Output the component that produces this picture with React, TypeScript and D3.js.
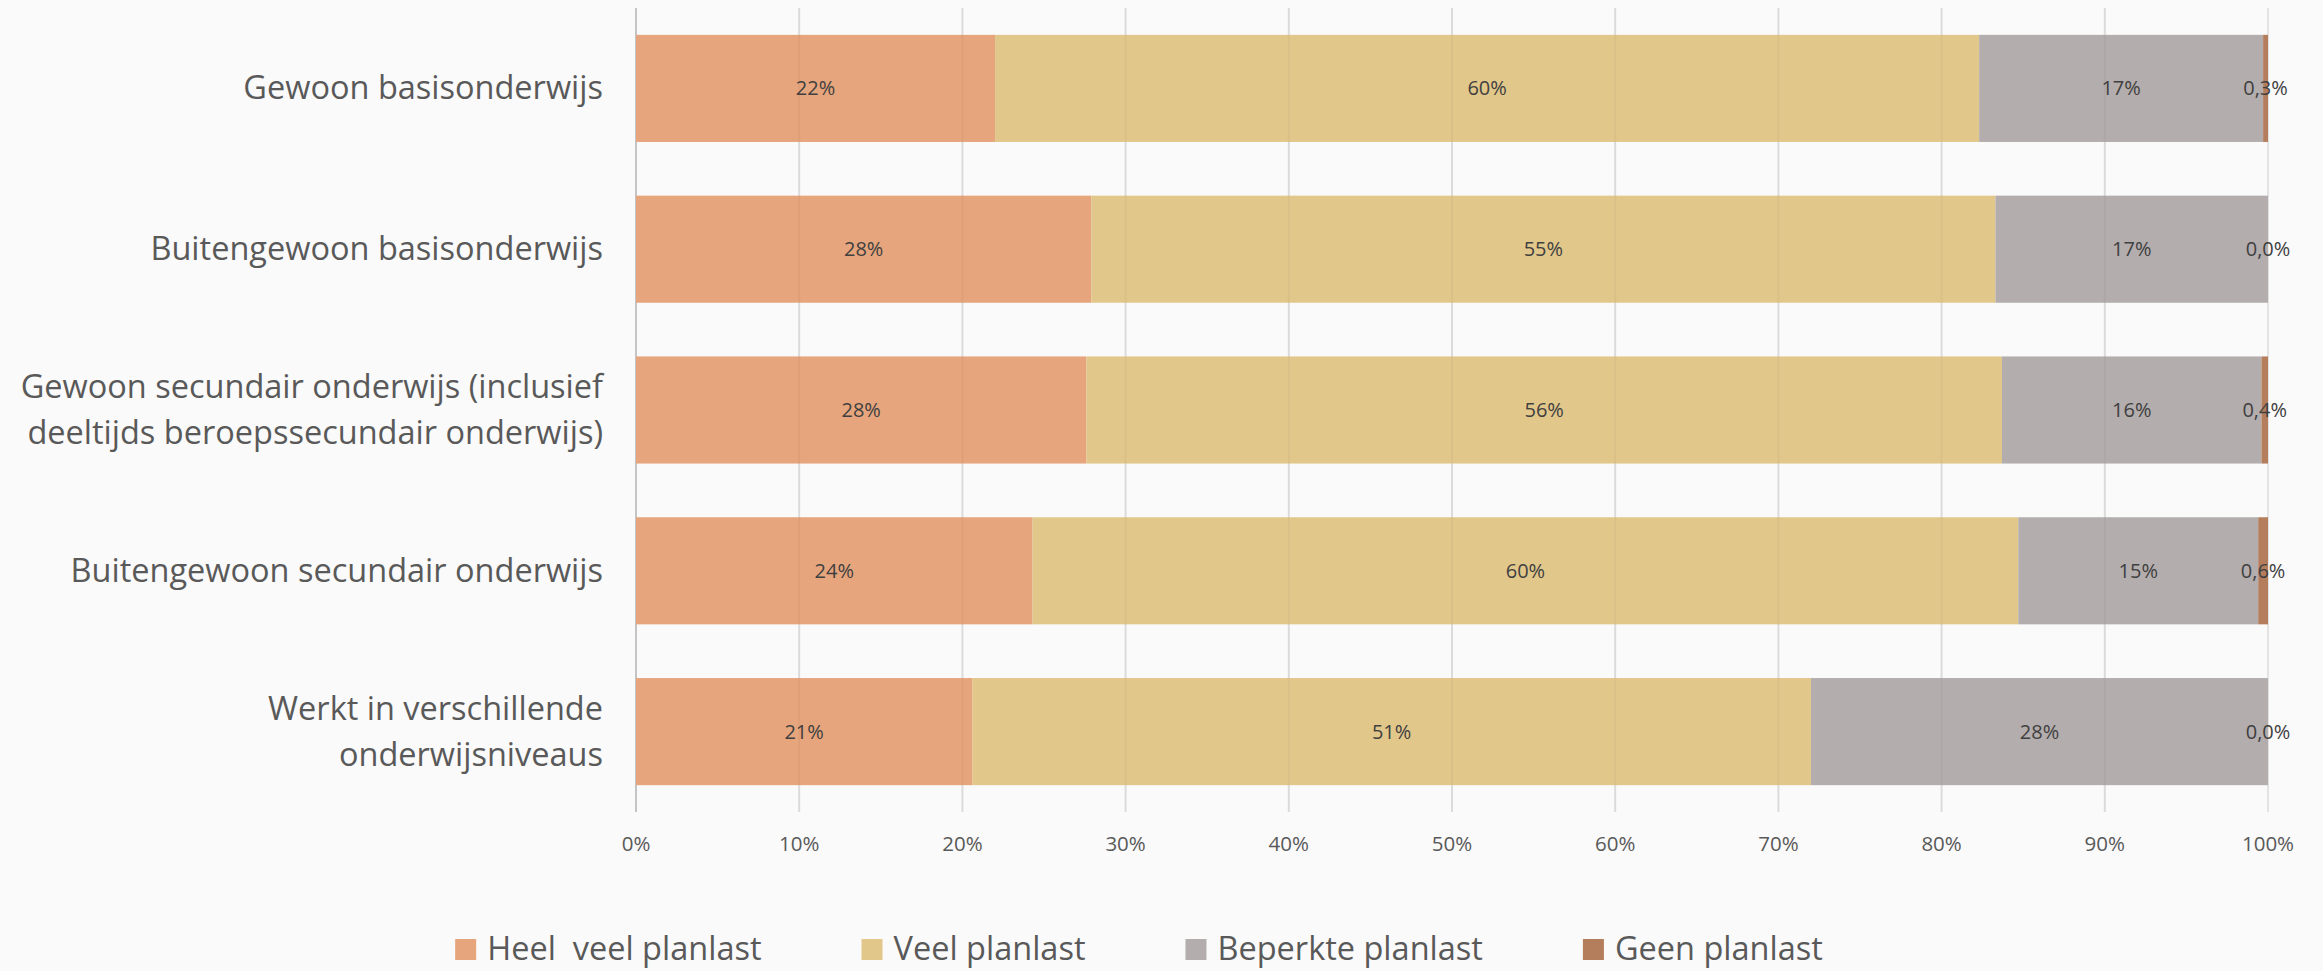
import React, { useEffect, useRef } from "react";
import * as d3 from "d3";

const categories = [
  ["Gewoon basisonderwijs"],
  ["Buitengewoon basisonderwijs"],
  ["Gewoon secundair onderwijs (inclusief", "deeltijds beroepssecundair onderwijs)"],
  ["Buitengewoon secundair onderwijs"],
  ["Werkt in verschillende", "onderwijsniveaus"],
];
const seriesNames = ["Heel  veel planlast", "Veel planlast", "Beperkte planlast", "Geen planlast"];
const heelVeel = [22.0, 27.9, 27.6, 24.3, 20.6];
const veel = [60.3, 55.4, 56.1, 60.4, 51.4];
const beperkt = [17.4, 16.7, 15.9, 14.7, 28.0];
const geen = [0.3, 0.0, 0.4, 0.6, 0.0];
const tickValues = [0, 10, 20, 30, 40, 50, 60, 70, 80, 90, 100];
const colors = ["#E6A57C", "#E2C78B", "#B3ADAD", "#B47D5C"];

const W = 2323;
const H = 971;
const FONT = "'Open Sans', sans-serif";

export default function App() {
  const ref = useRef<SVGSVGElement | null>(null);
  useEffect(() => {
    document.body.style.margin = "0";
    const svg = d3.select(ref.current);
    svg.selectAll("*").remove();
    svg.append("rect").attr("width", W).attr("height", H).attr("fill", "#FAFAFA");

    const keys = categories.map((_, i) => String(i));
    const x = d3.scaleLinear().domain([0, 100]).range([636, 2268]);
    const y = d3.scaleBand<string>().domain(keys).range([8, 812]).paddingInner(0.334).paddingOuter(0.167);

    const series = [heelVeel, veel, beperkt, geen];
    const rows = keys.map((k, i) => {
      const o: any = { key: k };
      series.forEach((s, j) => (o["s" + j] = s[i]));
      return o;
    });
    const stacked = d3.stack<any>().keys(["s0", "s1", "s2", "s3"])(rows);

    // gridlines
    svg
      .append("g")
      .selectAll("line")
      .data(tickValues)
      .join("line")
      .attr("x1", (d) => x(d))
      .attr("x2", (d) => x(d))
      .attr("y1", 8)
      .attr("y2", 812)
      .attr("stroke", (d) => (d === 0 ? "#C4C4C4" : "#E3E3E3"))
      .attr("stroke-width", 2);

    // bars
    stacked.forEach((layer, j) => {
      svg
        .append("g")
        .selectAll("rect")
        .data(layer)
        .join("rect")
        .attr("x", (d) => x(d[0]))
        .attr("y", (d) => y(d.data.key)!)
        .attr("width", (d) => Math.max(0, x(d[1]) - x(d[0])))
        .attr("height", y.bandwidth())
        .attr("fill", colors[j]);
    });

    // faint gridlines over bars
    svg
      .append("g")
      .selectAll("line")
      .data(tickValues.filter((d) => d > 0 && d < 100))
      .join("line")
      .attr("x1", (d) => x(d))
      .attr("x2", (d) => x(d))
      .attr("y1", 8)
      .attr("y2", 812)
      .attr("stroke", "rgba(0,0,0,0.03)")
      .attr("stroke-width", 2);

    // value labels
    stacked.forEach((layer, j) => {
      svg
        .append("g")
        .selectAll("text")
        .data(layer)
        .join("text")
        .attr("x", (d) => x((d[0] + d[1]) / 2))
        .attr("y", (d) => y(d.data.key)! + y.bandwidth() / 2)
        .attr("dy", "0.35em")
        .attr("text-anchor", "middle")
        .attr("font-family", FONT)
        .attr("font-size", 20)
        .attr("fill", "#404040")
        .text((d) => {
          const v = d[1] - d[0];
          return j === 3 ? v.toFixed(1).replace(".", ",") + "%" : Math.round(v) + "%";
        });
    });

    // x tick labels
    svg
      .append("g")
      .selectAll("text")
      .data(tickValues)
      .join("text")
      .attr("x", (d) => x(d))
      .attr("y", 844)
      .attr("dy", "0.35em")
      .attr("text-anchor", "middle")
      .attr("font-family", FONT)
      .attr("font-size", 20.5)
      .attr("fill", "#595959")
      .text((d) => d + "%");

    // y labels
    const yl = svg.append("g");
    categories.forEach((lines, i) => {
      const cy = y(keys[i])! + y.bandwidth() / 2;
      const lh = 46;
      const start = cy + 11 - ((lines.length - 1) * lh) / 2;
      const t = yl
        .append("text")
        .attr("text-anchor", "end")
        .attr("font-family", FONT)
        .attr("font-size", 32.5)
        .attr("fill", "#595959");
      lines.forEach((ln, k) => {
        t.append("tspan").attr("x", 603).attr("y", start + k * lh).text(ln);
      });
    });

    // legend
    const lg = svg.append("g");
    const items = seriesNames.map((name, j) => {
      const g = lg.append("g");
      g.append("rect").attr("x", 0).attr("y", 939).attr("width", 21).attr("height", 21).attr("fill", colors[j]);
      const t = g
        .append("text")
        .attr("x", 32)
        .attr("y", 960)
        .attr("font-family", FONT)
        .attr("font-size", 32.5)
        .attr("fill", "#595959")
        .style("white-space", "pre")
        .text(name);
      const w = (t.node() as SVGTextElement).getComputedTextLength();
      return { g, w: 32 + w };
    });
    const gap = 100;
    const total = d3.sum(items, (d) => d.w) + gap * (items.length - 1);
    let cx = 1139 - total / 2;
    items.forEach((it) => {
      it.g.attr("transform", `translate(${cx},0)`);
      cx += it.w + gap;
    });
  }, []);
  return <svg ref={ref} width={W} height={H} style={{ display: "block" }} />;
}
